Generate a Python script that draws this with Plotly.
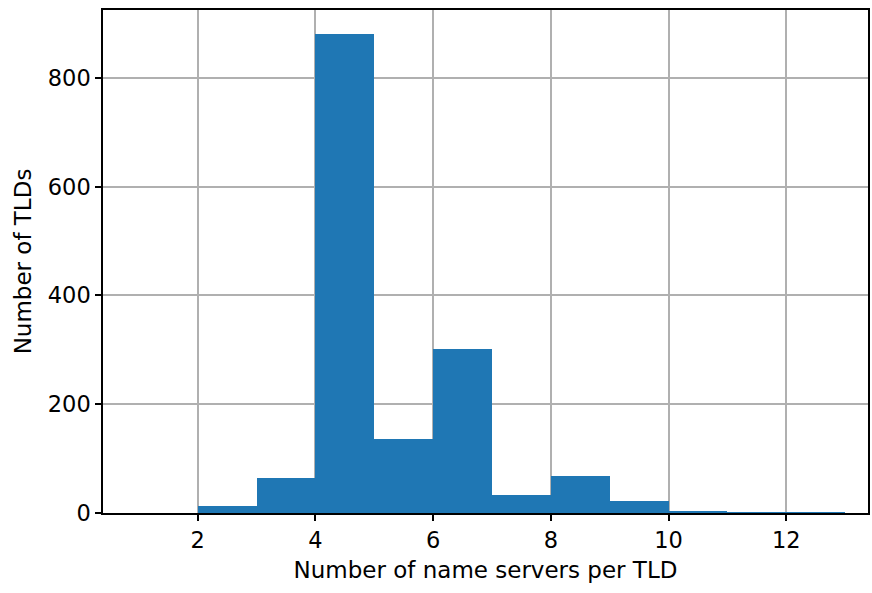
import plotly.graph_objects as go

bin_edges = [1, 2, 3, 4, 5, 6, 7, 8, 9, 10, 11, 12, 13]
counts = [0, 13, 64, 881, 136, 301, 33, 68, 22, 2, 1, 1]
x_ticks = [2, 4, 6, 8, 10, 12]
y_ticks = [0, 200, 400, 600, 800]

centers = [(a + b) / 2 for a, b in zip(bin_edges[:-1], bin_edges[1:])]
widths = [b - a for a, b in zip(bin_edges[:-1], bin_edges[1:])]

fig = go.Figure(go.Bar(x=centers, y=counts, width=widths,
                       marker=dict(color="#1f77b4", line=dict(width=0))))

font = dict(family="DejaVu Sans", size=22.5, color="black")
title_font = dict(family="DejaVu Sans", size=23, color="black")
axis_common = dict(showline=True, linecolor="black", linewidth=1.5, mirror=True,
                   ticks="outside", ticklen=6, tickwidth=1.5, tickcolor="black",
                   showgrid=True, gridcolor="#b0b0b0", gridwidth=1.5,
                   zeroline=False, layer="above traces", tickfont=font)

fig.update_layout(
    width=872, height=593,
    margin=dict(l=103, r=2, t=10, b=80),
    plot_bgcolor="white", paper_bgcolor="white",
    showlegend=False, bargap=0,
    font=font,
    xaxis=dict(range=[0.39, 13.39], tickvals=x_ticks,
               title=dict(text="Number of name servers per TLD", font=title_font, standoff=10),
               **axis_common),
    yaxis=dict(range=[0, 925], tickvals=y_ticks,
               title=dict(text="Number of TLDs", font=title_font, standoff=10),
               **axis_common),
)
fig.write_html("out.html", config={"displayModeBar": False},
               post_script="document.body.style.margin='0';")
